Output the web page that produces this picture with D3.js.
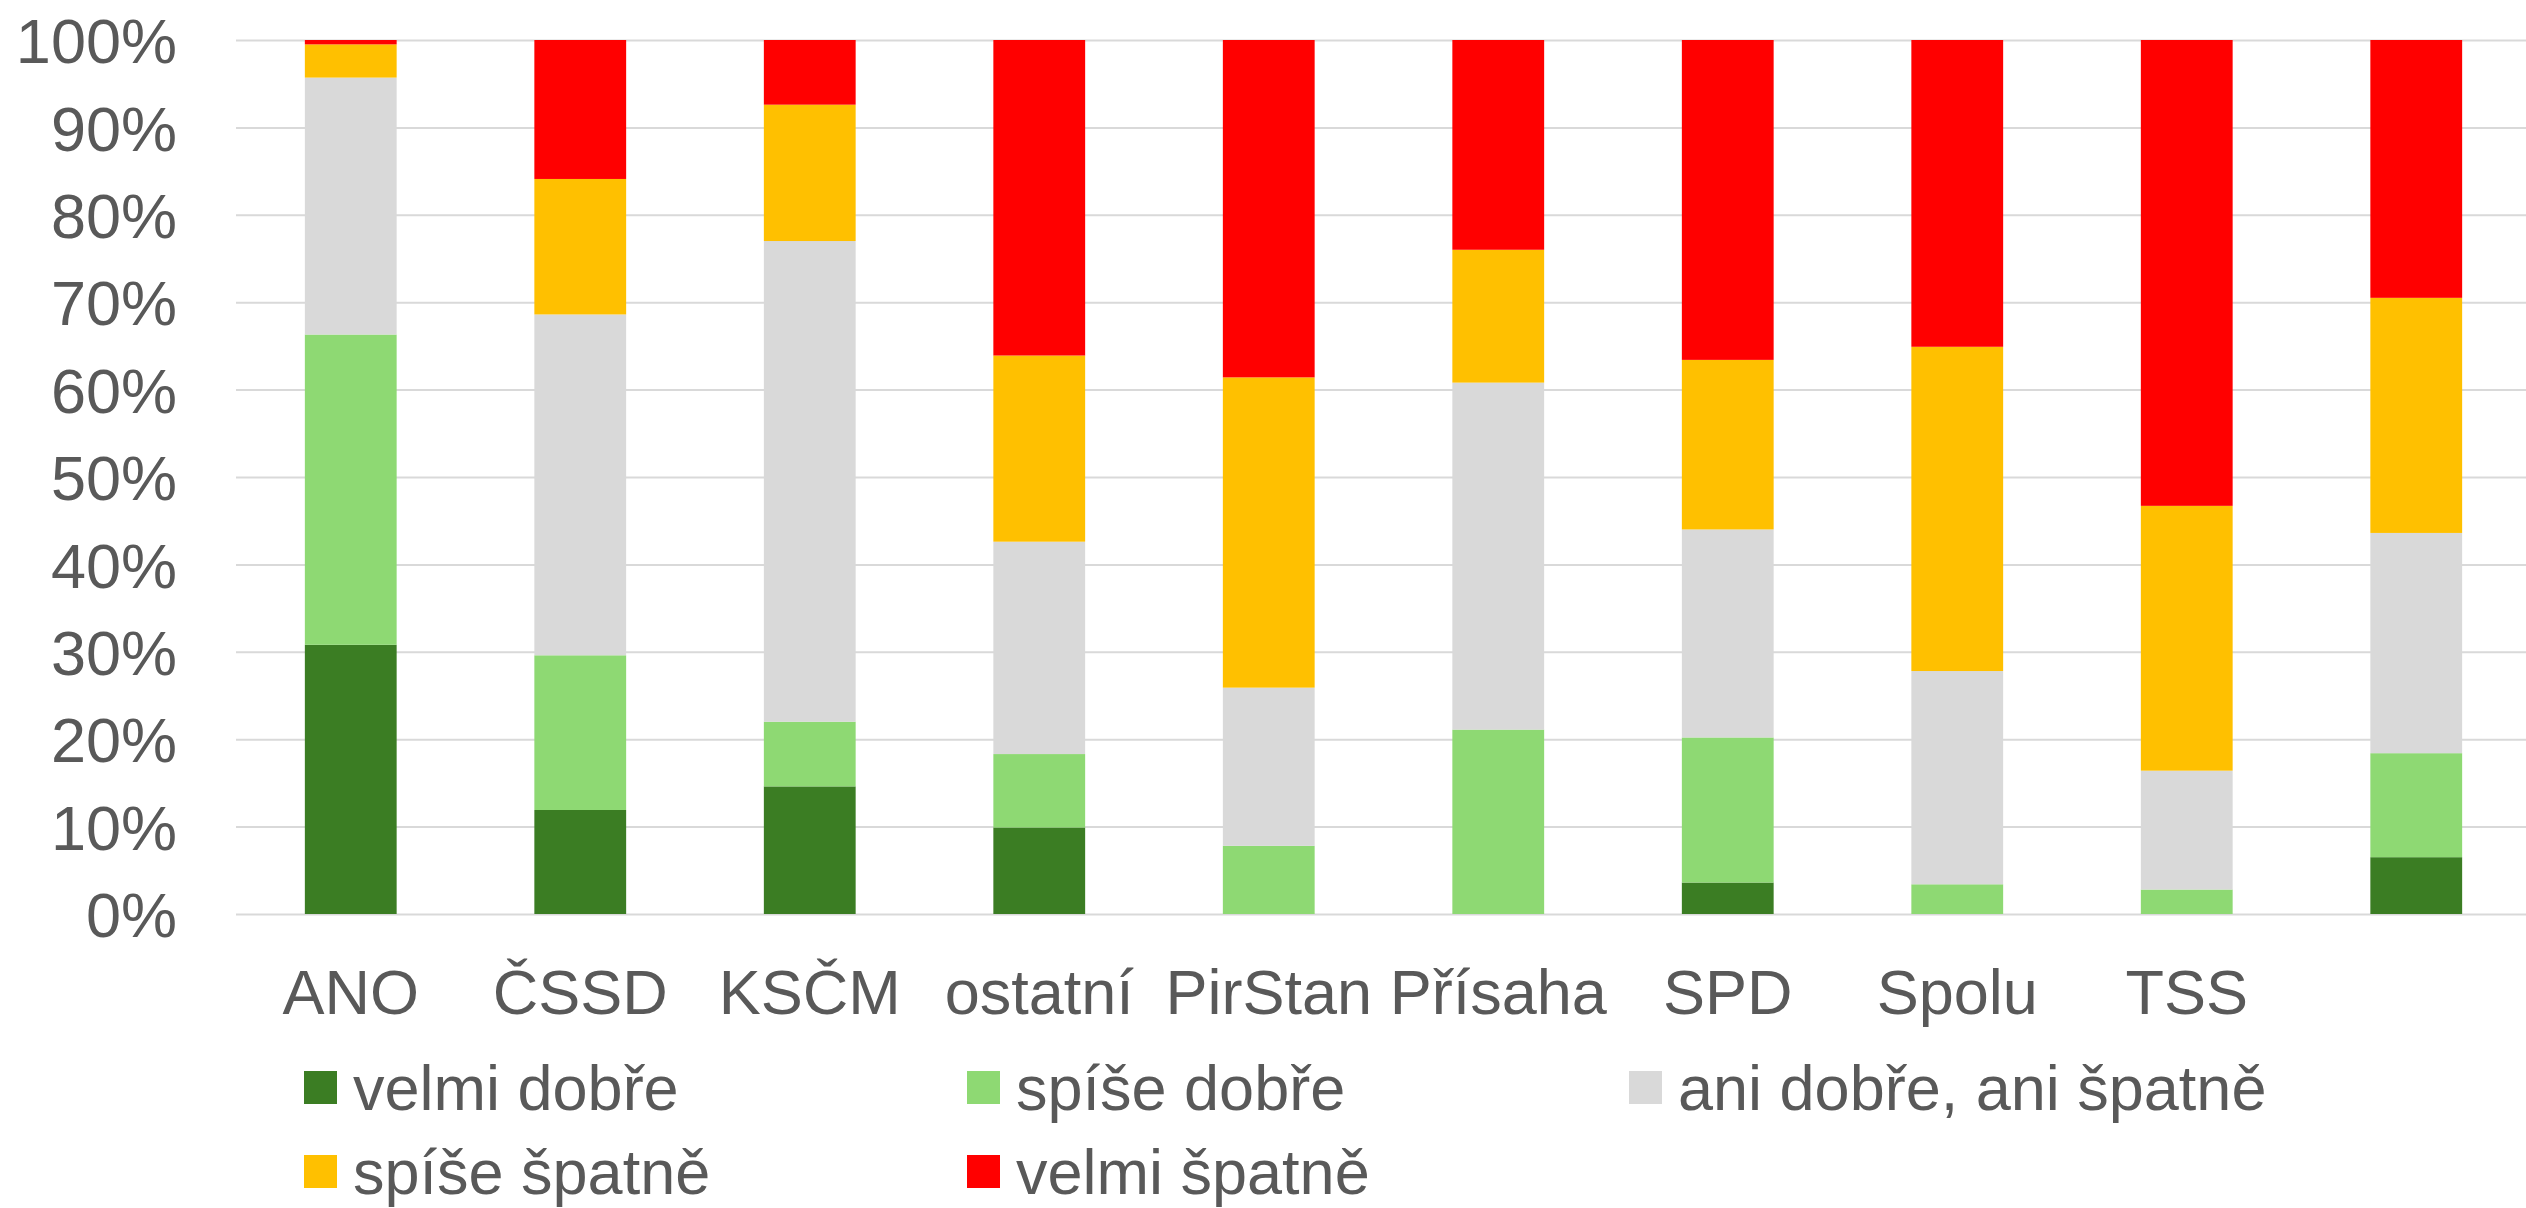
<!DOCTYPE html>
<html>
<head>
<meta charset="utf-8">
<script src="https://cdn.jsdelivr.net/npm/d3@7"></script>
<style>
  html, body { margin: 0; padding: 0; background: #fff; }
  svg { display: block; }
</style>
</head>
<body>
<div id="chart"></div>
<script>
// categories (last one has no label in the original)
const categories = ["ANO", "ČSSD", "KSČM", "ostatní", "PirStan", "Přísaha", "SPD", "Spolu", "TSS", ""];

// series values in %
const velmiDobre   = [30.8, 11.9, 14.6,  9.9,  0.0,  0.0,  3.6,  0.0,  0.0,  6.5];
const spiseDobre   = [35.5, 17.7,  7.4,  8.4,  7.8, 21.1, 16.6,  3.4,  2.8, 11.9];
const aniAni       = [29.4, 39.0, 55.0, 24.3, 18.1, 39.7, 23.8, 24.4, 13.6, 25.2];
const spiseSpatne  = [ 3.8, 15.5, 15.6, 21.3, 35.5, 15.2, 19.4, 37.1, 30.3, 26.9];
const velmiSpatne  = [ 0.5, 15.9,  7.4, 36.1, 38.6, 24.0, 36.6, 35.1, 53.3, 29.5];

const seriesNames = ["velmi dobře", "spíše dobře", "ani dobře, ani špatně", "spíše špatně", "velmi špatně"];
const seriesValues = [velmiDobre, spiseDobre, aniAni, spiseSpatne, velmiSpatne];
const seriesColors = ["#3b7d23", "#8ed973", "#d9d9d9", "#ffc000", "#ff0000"];

const yTicks = [0, 0.1, 0.2, 0.3, 0.4, 0.5, 0.6, 0.7, 0.8, 0.9, 1];

const width = 2526, height = 1208;
const plotLeft = 236, plotRight = 2531, plotTop = 40, plotBottom = 914;
const textColor = "#595959";
const fontSize = 63;

const rows = categories.map((c, i) => {
  const r = { idx: i };
  seriesNames.forEach((s, j) => r[s] = seriesValues[j][i]);
  return r;
});

const stack = d3.stack().keys(seriesNames).offset(d3.stackOffsetExpand);
const stacked = stack(rows);

const x = d3.scaleBand()
  .domain(categories.map((c, i) => i))
  .range([plotLeft, plotRight])
  .paddingInner(0.6)
  .paddingOuter(0.3);

const y = d3.scaleLinear().domain([0, 1]).range([plotBottom, plotTop]);

const svg = d3.select("#chart").append("svg")
  .attr("width", width)
  .attr("height", height)
  .attr("font-family", "'Liberation Sans', Arial, sans-serif");

// y axis + gridlines
const yAxis = svg.append("g")
  .attr("class", "y-axis")
  .attr("transform", `translate(${plotLeft},0)`)
  .call(d3.axisLeft(y).tickValues(yTicks).tickFormat(d3.format(".0%")).tickSize(-(plotRight - plotLeft)).tickPadding(59));
yAxis.select(".domain").remove();
yAxis.selectAll(".tick line").attr("stroke", "#d9d9d9").attr("stroke-width", 2);
yAxis.selectAll(".tick text")
  .attr("fill", textColor)
  .attr("font-size", fontSize)
  .attr("dy", "0.36em");

// bars
const layers = svg.append("g").attr("class", "bars")
  .selectAll("g")
  .data(stacked)
  .join("g")
  .attr("fill", (d, i) => seriesColors[i]);

layers.selectAll("rect")
  .data(d => d)
  .join("rect")
  .attr("x", d => x(d.data.idx))
  .attr("width", x.bandwidth())
  .attr("y", d => y(d[1]))
  .attr("height", d => Math.max(0, y(d[0]) - y(d[1])));

// x axis labels
const xAxis = svg.append("g")
  .attr("class", "x-axis")
  .attr("transform", `translate(0,${plotBottom})`)
  .call(d3.axisBottom(x).tickFormat(i => categories[i]).tickSize(0).tickPadding(0));
xAxis.select(".domain").remove();
xAxis.selectAll(".tick text")
  .attr("fill", textColor)
  .attr("font-size", fontSize)
  .attr("dy", 0)
  .attr("y", 100);

// legend
const legendCols = [304, 967, 1629];
const legendRows = [1087, 1171];
const legend = svg.append("g").attr("class", "legend")
  .selectAll("g")
  .data(seriesNames)
  .join("g")
  .attr("transform", (d, i) => `translate(${legendCols[i % 3]},${legendRows[Math.floor(i / 3)]})`);

legend.append("rect")
  .attr("x", 0)
  .attr("y", -16)
  .attr("width", 33)
  .attr("height", 33)
  .attr("fill", (d, i) => seriesColors[i]);

legend.append("text")
  .attr("x", 49)
  .attr("y", 23)
  .attr("fill", textColor)
  .attr("font-size", fontSize)
  .text(d => d);
</script>
</body>
</html>
